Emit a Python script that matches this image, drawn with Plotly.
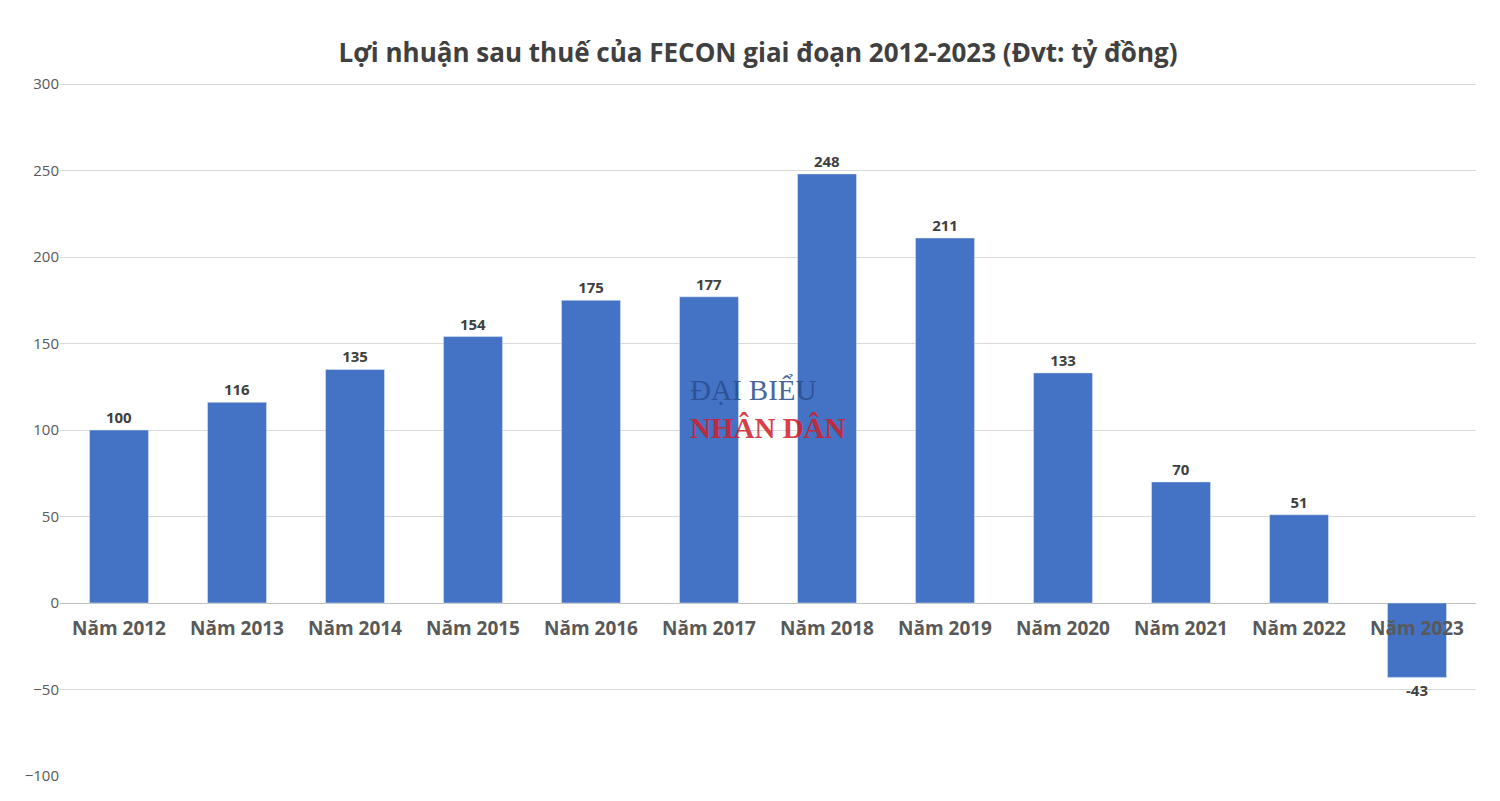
import plotly.graph_objects as go

years = ["Năm 2012", "Năm 2013", "Năm 2014", "Năm 2015", "Năm 2016", "Năm 2017",
         "Năm 2018", "Năm 2019", "Năm 2020", "Năm 2021", "Năm 2022", "Năm 2023"]
profit = [100, 116, 135, 154, 175, 177, 248, 211, 133, 70, 51, -43]
y_ticks = [-100, -50, 0, 50, 100, 150, 200, 250, 300]

fig = go.Figure(go.Bar(
    x=years, y=profit,
    marker_color="#4472C4", width=0.5,
    text=[str(v) for v in profit], texttemplate="<b>%{text}</b>", textposition="outside",
    textfont=dict(size=15, color="#404040", family="Open Sans"),
    cliponaxis=False,
))

# category labels sit next to the zero line, like Excel
for name in years:
    fig.add_annotation(x=name, y=0, xref="x", yref="y", text="<b>" + name + "</b>",
                       showarrow=False, yanchor="top", yshift=-10,
                       font=dict(size=19, color="#595959", family="Open Sans"))

# watermark
fig.add_annotation(x=0.5, y=0.53, xref="paper", yref="paper", showarrow=False,
                   text="<span style='color:#2a4d8f'>ĐẠI BIỂU</span><br>"
                        "<b><span style='color:#d0202a'>NHÂN DÂN</span></b>",
                   font=dict(size=29, family="Liberation Serif"), opacity=0.85,
                   align="left")

fig.update_layout(
    title=dict(text="<b>Lợi nhuận sau thuế của FECON giai đoạn 2012-2023 (Đvt: tỷ đồng)</b>",
               x=0.5, y=0.955, font=dict(size=26, color="#404040", family="Open Sans")),
    width=1500, height=801,
    margin=dict(l=52, r=32, t=75, b=33),
    paper_bgcolor="white", plot_bgcolor="white",
    showlegend=False,
    xaxis=dict(showticklabels=False, showgrid=False),
    yaxis=dict(range=[-100, 300.6], tickvals=y_ticks, gridcolor="#d9d9d9",
               zeroline=True, zerolinecolor="#bfbfbf", zerolinewidth=1,
               tickfont=dict(size=15, color="#595959", family="Open Sans"),
               ticklen=15, tickcolor="white"),
    bargap=0.5,
)

fig.write_html("out.html")
